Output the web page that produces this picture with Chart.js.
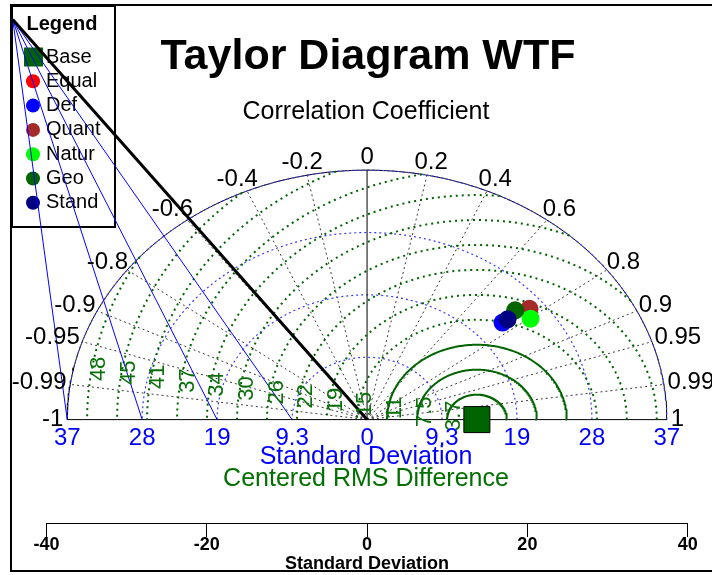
<!DOCTYPE html>
<html>
<head>
<meta charset="utf-8">
<script src="https://cdn.jsdelivr.net/npm/chart.js@4.4.1/dist/chart.umd.min.js"></script>
<style>
  html, body { margin: 0; padding: 0; background: #fff; }
  canvas { display: block; background: #fff; }
</style>
</head>
<body>
<canvas id="taylorChart" width="712" height="575"></canvas>
<script>
// ---- datos del diagrama ----
const modelNames = ['Equal', 'Def', 'Quant', 'Natur', 'Geo', 'Stand'];
const modelColors = ['#ff0000', '#0000ff', '#a52a2a', '#00ff00', '#006400', '#000080'];
const modelStd = [26.15, 22.3, 26.2, 25.4, 24.7, 23.1];
const modelCorr = [0.774, 0.758, 0.773, 0.803, 0.748, 0.759];

const refName = 'Base';
const refColor = '#006400';
const refStd = 13.7;

const maxStd = 37.4;
const stdTicks = [9.35, 18.7, 28.05, 37.4];
const stdTickLabels = ['9.3', '19', '28', '37'];
const corrTicks = [-0.99, -0.95, -0.9, -0.8, -0.6, -0.4, -0.2, 0, 0.2, 0.4, 0.6, 0.8, 0.9, 0.95, 0.99];
const corrLabelTicks = [-1, -0.99, -0.95, -0.9, -0.8, -0.6, -0.4, -0.2, 0, 0.2, 0.4, 0.6, 0.8, 0.9, 0.95, 0.99, 1];
const rmsStep = 3.74;
const rmsLabels = ['3.7', '7.5', '11', '15', '19', '22', '26', '30', '34', '37', '41', '45', '48'];
const xTicks = [-40, -20, 0, 20, 40];

// esquina del marco (unidades de datos) de donde salen las lineas rectas
const cornerX = -44.2;
const cornerY = 60;

const FONT = "'Liberation Sans', Arial, sans-serif";
Chart.defaults.font.family = FONT;

// ---- geometria ----
function polar(r, c) {
    return { x: r * c, y: r * Math.sqrt(Math.max(0, 1 - c * c)) };
}

function stdArc(r) {
    const pts = [];
    for (let i = 0; i <= 240; i++) {
        const a = Math.PI * i / 240;
        pts.push({ x: r * Math.cos(a), y: r * Math.sin(a) });
    }
    return pts;
}

function rmsArc(rho) {
    // solo la parte dentro del semicirculo exterior
    let phi0 = 0;
    if (refStd + rho > maxStd) {
        const xi = (maxStd * maxStd - rho * rho + refStd * refStd) / (2 * refStd);
        const yi = Math.sqrt(Math.max(0, maxStd * maxStd - xi * xi));
        phi0 = Math.atan2(yi, xi - refStd);
    }
    const pts = [];
    for (let i = 0; i <= 200; i++) {
        const phi = phi0 + (Math.PI - phi0) * i / 200;
        pts.push({ x: refStd + rho * Math.cos(phi), y: rho * Math.sin(phi) });
    }
    return pts;
}

function lineSet(data, color, width, dash, order, clip) {
    return {
        type: 'scatter', data: data, showLine: true, pointRadius: 0,
        borderColor: color, borderWidth: width, borderDash: dash || [],
        fill: false, tension: 0, order: order, clip: clip === undefined ? undefined : clip
    };
}

const datasets = [];

// marcadores (order bajo = encima)
modelNames.forEach((name, i) => {
    const p = polar(modelStd[i], modelCorr[i]);
    datasets.push({
        type: 'scatter', label: name, data: [p],
        backgroundColor: modelColors[i], borderWidth: 0,
        pointStyle: 'circle', pointRadius: 9, order: modelNames.length - i
    });
});
datasets.push({
    type: 'scatter', label: refName, data: [{ x: refStd, y: 0 }],
    backgroundColor: refColor, borderColor: '#000', borderWidth: 1,
    pointStyle: 'rect', pointRadius: 18.4, order: 8
});

// arcos de desviacion estandar
stdTicks.forEach(r => datasets.push(lineSet(stdArc(r), '#3a3aff', 1.2, [2, 3], 20)));
datasets.push(lineSet(stdArc(maxStd), '#000', 1, [], 21));

// lineas de correlacion
corrTicks.forEach(c => {
    const p = polar(maxStd, c);
    if (c === 0) datasets.push(lineSet([{ x: 0, y: 0 }, p], '#000', 1, [], 19));
    else datasets.push(lineSet([{ x: 0, y: 0 }, p], '#3c3c3c', 1, [2, 3], 22));
});

// linea base
datasets.push(lineSet([{ x: -maxStd, y: 0 }, { x: maxStd, y: 0 }], '#000', 1, [], 19));

// contornos RMS
rmsLabels.forEach((lab, k) => {
    const rho = rmsStep * (k + 1);
    if (k < 3) datasets.push(lineSet(rmsArc(rho), '#006400', 2, [], 18));
    else datasets.push(lineSet(rmsArc(rho), '#006400', 2, [2, 4], 18));
});

// lineas desde la esquina
stdTicks.forEach(v => datasets.push(lineSet([{ x: cornerX, y: cornerY }, { x: -v, y: 0 }], '#0000ff', 1, [], 15, false)));
datasets.push(lineSet([{ x: cornerX, y: cornerY }, { x: 0, y: 0 }], '#000', 3, [], 14, false));

// ---- textos, leyenda y marco ----
const taylorDecor = {
    id: 'taylorDecor',
    beforeDatasetsDraw(chart) {
        const ctx = chart.ctx;
        ctx.save();
        // leyenda
        ctx.strokeStyle = '#000';
        ctx.lineWidth = 2;
        ctx.strokeRect(12, 6, 103, 221);
        ctx.fillStyle = '#000';
        ctx.textBaseline = 'middle';
        ctx.textAlign = 'center';
        ctx.font = 'bold 20px ' + FONT;
        ctx.fillText('Legend', 62, 24);
        const entries = [{ name: refName, color: refColor, rect: true }]
            .concat(modelNames.map((n, i) => ({ name: n, color: modelColors[i] })));
        ctx.textAlign = 'left';
        ctx.font = '20px ' + FONT;
        entries.forEach((e, i) => {
            const y = 57 + i * 24.3;
            ctx.fillStyle = e.color;
            if (e.rect) {
                ctx.fillRect(24, y - 9.5, 19, 19);
            } else {
                ctx.beginPath();
                ctx.arc(33, y, 7, 0, Math.PI * 2);
                ctx.fill();
            }
            ctx.fillStyle = '#000';
            ctx.fillText(e.name, 46, y);
        });
        ctx.restore();
    },
    afterDatasetsDraw(chart) {
        const ctx = chart.ctx;
        const xs = chart.scales.x, ys = chart.scales.y;
        const px = v => xs.getPixelForValue(v);
        const py = v => ys.getPixelForValue(v);
        ctx.save();
        ctx.textBaseline = 'middle';
        ctx.textAlign = 'center';

        // titulo
        ctx.fillStyle = '#000';
        ctx.font = 'bold 43px ' + FONT;
        ctx.fillText('Taylor Diagram WTF', 368, 57);
        ctx.font = '25px ' + FONT;
        ctx.fillText('Correlation Coefficient', 366, 112);

        // etiquetas de correlacion
        ctx.font = '24px ' + FONT;
        corrLabelTicks.forEach(c => {
            const s = Math.sqrt(Math.max(0, 1 - c * c));
            const lab = String(c);
            const w = ctx.measureText(lab).width;
            const x = px(maxStd * c) + c * (4 + w / 2);
            const y = py(maxStd * s) - s * 13;
            ctx.fillText(lab, x, y);
        });

        // etiquetas de desviacion estandar
        ctx.fillStyle = '#0000ff';
        ctx.font = '24px ' + FONT;
        const yLab = py(0) + 19;
        ctx.fillText('0', px(0), yLab);
        stdTicks.forEach((v, i) => {
            ctx.fillText(stdTickLabels[i], px(-v), yLab);
            ctx.fillText(stdTickLabels[i], px(v), yLab);
        });
        ctx.font = '25px ' + FONT;
        ctx.fillText('Standard Deviation', 366, 457);
        ctx.fillStyle = '#007000';
        ctx.fillText('Centered RMS Difference', 366, 479);

        // etiquetas RMS (giradas)
        ctx.font = '22px ' + FONT;
        ctx.fillStyle = '#0a700a';
        const th = 9 * Math.PI / 180;
        rmsLabels.forEach((lab, k) => {
            const rho = rmsStep * (k + 1);
            const x = px(refStd - rho * Math.cos(th)) + 7;
            const y = py(rho * Math.sin(th));
            ctx.save();
            ctx.translate(x, y);
            ctx.rotate(-Math.PI / 2);
            ctx.fillText(lab, 0, 0);
            ctx.restore();
        });
        ctx.restore();
    },
    afterDraw(chart) {
        const ctx = chart.ctx;
        ctx.save();
        ctx.strokeStyle = '#000';
        ctx.lineWidth = 2;
        ctx.beginPath();
        ctx.moveTo(712, 5);
        ctx.lineTo(11, 5);
        ctx.lineTo(11, 571);
        ctx.lineTo(712, 571);
        ctx.stroke();
        ctx.restore();
    }
};

const taylorCtx = document.getElementById('taylorChart').getContext('2d');
const taylorChart = new Chart(taylorCtx, {
    type: 'scatter',
    data: { datasets: datasets },
    options: {
        responsive: false,
        animation: false,
        devicePixelRatio: 1,
        events: [],
        layout: { padding: { left: 46.4, right: 24.3, top: 6, bottom: 0 } },
        plugins: {
            legend: { display: false },
            tooltip: { enabled: false },
            title: { display: false }
        },
        scales: {
            x: {
                type: 'linear', position: 'bottom', min: -40, max: 40,
                afterBuildTicks: axis => { axis.ticks = xTicks.map(v => ({ value: v })); },
                grid: { display: true, drawOnChartArea: false, drawTicks: true, tickLength: 14, color: '#000', lineWidth: 1 },
                border: { display: true, color: '#000', width: 1 },
                ticks: { color: '#000', padding: -3, maxRotation: 0, font: { size: 18, weight: 'bold' } },
                title: { display: true, text: 'Standard Deviation', color: '#000', padding: 0, font: { size: 18, weight: 'bold' } },
                afterFit: axis => { axis.height = 52; }
            },
            y: {
                type: 'linear', display: false, min: -15.5, max: 60
            }
        }
    },
    plugins: [taylorDecor]
});
</script>
</body>
</html>
